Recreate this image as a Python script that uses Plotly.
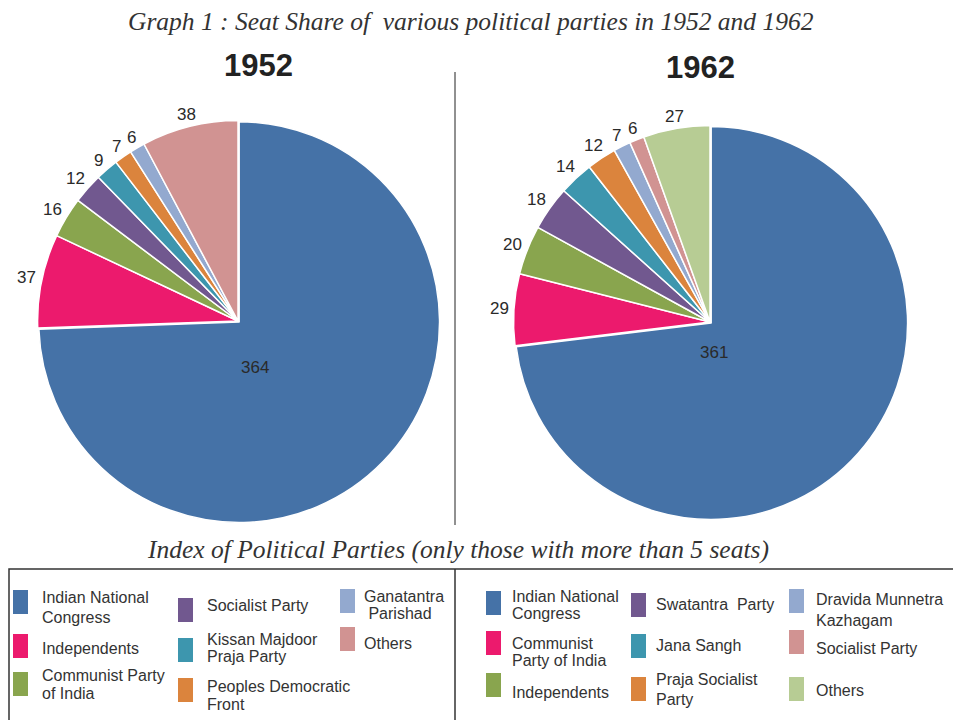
import math
import plotly.graph_objects as go

# ---------------- data ----------------
parties_1952 = ["Indian National<br>Congress", "Independents", "Communist Party<br>of India",
                "Socialist Party", "Kissan Majdoor<br>Praja Party", "Peoples Democratic<br>Front",
                "Ganatantra<br>&nbsp;Parishad", "Others"]
seats_1952 = [364, 37, 16, 12, 9, 7, 6, 38]
colors_1952 = ["#4572A7", "#EC1A6D", "#89A54E", "#71588F", "#3D96AE", "#DB843D", "#93A9CF", "#D19392"]

parties_1962 = ["Indian National<br>Congress", "Communist<br>Party of India", "Independents",
                "Swatantra&nbsp;&nbsp;Party", "Jana Sangh", "Praja Socialist<br>Party",
                "Dravida Munnetra<br>Kazhagam", "Socialist Party", "Others"]
seats_1962 = [361, 29, 20, 18, 14, 12, 7, 6, 27]
colors_1962 = ["#4572A7", "#EC1A6D", "#89A54E", "#71588F", "#3D96AE", "#DB843D", "#93A9CF", "#D19392", "#B7CC94"]

title_text = "Graph 1 : Seat Share of&nbsp; various political parties in 1952 and 1962"
index_text = "Index of Political Parties (only those with more than 5 seats)"
years = ["1952", "1962"]

# page has an 8px body margin: the figure occupies 8..961 x 8..720
OFF = 8
W, H = 961 - OFF, 720 - OFF


def px(x):
    return (x - OFF) / W


def py(y):
    return 1 - (y - OFF) / H


def pie_domain(cx, cy, r):
    return dict(x=[px(cx - r), px(cx + r)], y=[py(cy + r), py(cy - r)])


LABEL_FONT = dict(family="Liberation Sans, Arial", size=17, color="#2a2a2a")

ann = []
shapes = []


def make_pie(values, colors, cx, cy, r, name, inside_off):
    n = len(values)
    total = sum(values)
    # value labels placed just outside the rim at each slice's mid angle (clockwise from 12 o'clock)
    cum = 0
    for i, v in enumerate(values):
        mid = math.radians(360.0 * (cum + v / 2) / total)
        cum += v
        if i == 0:
            ann.append(dict(text=str(v), x=px(cx + inside_off[0]), y=py(cy + inside_off[1]),
                            xref="paper", yref="paper", showarrow=False,
                            xanchor="center", yanchor="middle", font=LABEL_FONT))
            continue
        dx, dy = math.sin(mid), -math.cos(mid)
        hw = 0.56 * LABEL_FONT["size"] * len(str(v)) / 2
        hh = 0.36 * LABEL_FONT["size"]
        d = r + 3 + hw * abs(dx) + hh * abs(dy)
        ann.append(dict(text=str(v), x=px(cx + d * dx), y=py(cy + d * dy),
                        xref="paper", yref="paper", showarrow=False,
                        xanchor="center", yanchor="middle", font=LABEL_FONT))
    return go.Pie(
        values=values, labels=[f"{name}-{i}" for i in range(n)],
        marker=dict(colors=colors, line=dict(color="white", width=1.5)),
        sort=False, direction="clockwise", rotation=0,
        textinfo="none",
        domain=pie_domain(cx, cy, r), showlegend=False, hoverinfo="value",
        pull=[0.008] + [0] * (n - 1),
    )


fig = go.Figure()
fig.add_trace(make_pie(seats_1952, colors_1952, 238, 321, 202, "1952", (17, 46)))
fig.add_trace(make_pie(seats_1962, colors_1962, 710, 322, 198, "1962", (4, 30)))

ann.append(dict(text="<i>" + title_text + "</i>", x=px(471), y=py(22), xref="paper", yref="paper",
                showarrow=False, xanchor="center", yanchor="middle",
                font=dict(family="Liberation Serif, Times New Roman", size=25.5, color="#333333")))
ann.append(dict(text="<b>" + years[0] + "</b>", x=px(259), y=py(65), xref="paper", yref="paper",
                showarrow=False, xanchor="center", yanchor="middle",
                font=dict(family="Liberation Sans, Arial", size=31, color="#222222")))
ann.append(dict(text="<b>" + years[1] + "</b>", x=px(700), y=py(68), xref="paper", yref="paper",
                showarrow=False, xanchor="center", yanchor="middle",
                font=dict(family="Liberation Sans, Arial", size=31, color="#222222")))
ann.append(dict(text="<i>" + index_text + "</i>", x=px(458), y=py(549), xref="paper", yref="paper",
                showarrow=False, xanchor="center", yanchor="middle",
                font=dict(family="Liberation Serif, Times New Roman", size=25.5, color="#333333")))

# divider between pies
shapes.append(dict(type="line", xref="paper", yref="paper", x0=px(455), x1=px(455), y0=py(72), y1=py(525),
                   line=dict(color="#222222", width=1)))
# legend box
shapes.append(dict(type="rect", xref="paper", yref="paper", x0=px(9), x1=px(954), y0=py(740), y1=py(569),
                   line=dict(color="#333333", width=1.5)))
shapes.append(dict(type="line", xref="paper", yref="paper", x0=px(455), x1=px(455), y0=py(569), y1=py(740),
                   line=dict(color="#333333", width=1.5)))

# legend entries: (swatch x, text x, swatch y-top, text center y, line gap)
layout_1952 = [(13, 40, 590, 607, 20), (13, 40, 634, 648, 0), (13, 40, 672, 684, 18),
               (178, 205, 598, 605, 0), (178, 205, 638, 648, 17), (178, 205, 678, 695, 18),
               (340, 362, 589, 605, 17), (340, 362, 627, 643, 0)]
layout_1962 = [(486, 510, 591, 605, 17), (486, 510, 631, 652, 17), (486, 510, 673, 692, 0),
               (631, 654, 593, 604, 0), (631, 654, 634, 645, 0), (631, 654, 677, 689, 20),
               (789, 814, 589, 610, 21), (789, 814, 630, 648, 0), (789, 814, 677, 690, 0)]

LEG_FONT = dict(family="Liberation Sans, Arial", size=16, color="#333333")


def add_legend(names, colors, pos):
    for name, col, (sx, tx, sy, ty, gap) in zip(names, colors, pos):
        shapes.append(dict(type="rect", xref="paper", yref="paper", x0=px(sx), x1=px(sx + 15),
                           y0=py(sy + 24), y1=py(sy), fillcolor=col, line=dict(width=0)))
        lines = name.split("<br>")
        k = len(lines)
        for j, line in enumerate(lines):
            yy = ty + (j - (k - 1) / 2) * gap
            ann.append(dict(text=line, x=px(tx), y=py(yy), xref="paper", yref="paper", showarrow=False,
                            xanchor="left", yanchor="middle", align="left", font=LEG_FONT))


add_legend(parties_1952, colors_1952, layout_1952)
add_legend(parties_1962, colors_1962, layout_1962)

fig.update_layout(
    width=W, height=H, margin=dict(l=0, r=0, t=0, b=0),
    paper_bgcolor="white", plot_bgcolor="white",
    annotations=ann, shapes=shapes,
)

fig.write_html("out.html")
